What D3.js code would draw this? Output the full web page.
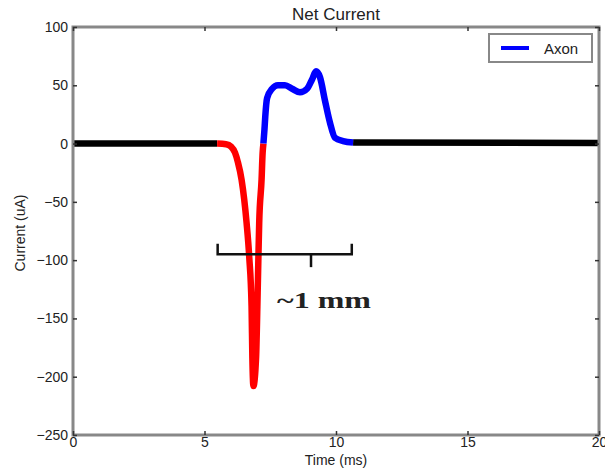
<!DOCTYPE html>
<html lang="en">
<head>
<meta charset="utf-8">
<title>Net Current</title>
<script src="https://d3js.org/d3.v7.min.js"></script>
<style>
  body { margin: 0; background: #fff; }
  text { font-family: "Liberation Sans", Arial, sans-serif; fill: #222; }
</style>
</head>
<body>
<script>
// time (ms) / current (uA)
var restT1 = [0, 5.48];
var restV1 = [0, 0];
var redT = [5.48, 5.82, 6.01, 6.16, 6.27, 6.41, 6.60, 6.70, 6.79, 6.82, 6.86, 6.96, 7.01, 7.05, 7.08, 7.17, 7.21, 7.24];
var redV = [0, -0.5, -2.6, -7.8, -16, -31, -68, -97, -140, -184, -208, -184, -140, -97, -68, -31, -8, 0];
var blueT = [7.24, 7.28, 7.31, 7.38, 7.57, 7.79, 8.06, 8.33, 8.63, 8.90, 9.09, 9.24, 9.39, 9.58, 9.77, 9.96, 10.27, 10.65];
var blueV = [0, 12, 23, 39, 47, 50, 50, 47, 44, 47, 55, 62, 57, 37, 18, 5, 2.2, 1];
var restT2 = [10.65, 20];
var restV2 = [1, 0.5];

var xTicks = [0, 5, 10, 15, 20];
var yTicks = [100, 50, 0, -50, -100, -150, -200, -250];

var width = 605, height = 471;
var plotLeft = 73, plotRight = 599, plotTop = 27, plotBottom = 435;

var x = d3.scaleLinear().domain([0, 20]).range([plotLeft, plotRight]);
var y = d3.scaleLinear().domain([-250, 100]).range([plotBottom, plotTop]);

var svg = d3.select("body").append("svg")
    .attr("width", width)
    .attr("height", height);

function pts(ts, vs) {
  return ts.map(function(t, i) { return [t, vs[i]]; });
}

var line = d3.line()
    .x(function(d) { return x(d[0]); })
    .y(function(d) { return y(d[1]); })
    .curve(d3.curveMonotoneX);

var series = [
  { data: pts(restT1, restV1), color: "#000" },
  { data: pts(restT2, restV2), color: "#000" },
  { data: pts(redT, redV), color: "#ff0000" },
  { data: pts(blueT, blueV), color: "#0000ff" }
];

svg.selectAll("path.series")
   .data(series)
   .enter()
   .append("path")
   .attr("class", "series")
   .attr("d", function(d) { return line(d.data); })
   .attr("fill", "none")
   .attr("stroke", function(d) { return d.color; })
   .attr("stroke-width", 6.5)
   .attr("stroke-linejoin", "round");

// frame
svg.append("rect")
   .attr("x", plotLeft).attr("y", plotTop)
   .attr("width", plotRight - plotLeft).attr("height", plotBottom - plotTop)
   .attr("fill", "none")
   .attr("stroke", "#888")
   .attr("stroke-width", 3);

// axes with inward ticks
var tickLen = 4;
svg.append("g")
   .attr("transform", "translate(0," + plotBottom + ")")
   .call(d3.axisBottom(x).tickValues(xTicks).tickSize(-tickLen).tickPadding(2).tickFormat(d3.format("d")))
   .call(function(g) { g.select(".domain").remove(); });
svg.append("g")
   .attr("transform", "translate(0," + plotTop + ")")
   .call(d3.axisTop(x).tickValues(xTicks).tickSize(-tickLen).tickFormat(""))
   .call(function(g) { g.select(".domain").remove(); });
svg.append("g")
   .attr("transform", "translate(" + plotLeft + ",0)")
   .call(d3.axisLeft(y).tickValues(yTicks).tickSize(-tickLen).tickPadding(5)
     .tickFormat(function(d) { return d < 0 ? "\u2212" + (-d) : d; }))
   .call(function(g) { g.select(".domain").remove(); });
svg.append("g")
   .attr("transform", "translate(" + plotRight + ",0)")
   .call(d3.axisRight(y).tickValues(yTicks).tickSize(-tickLen).tickFormat(""))
   .call(function(g) { g.select(".domain").remove(); });

svg.selectAll(".tick line").attr("stroke", "#333").attr("stroke-width", 1.5);
svg.selectAll(".tick text").style("font-size", "14px").attr("fill", "#222");

// titles
svg.append("text")
   .attr("x", (plotLeft + plotRight) / 2).attr("y", 20)
   .attr("text-anchor", "middle")
   .style("font-size", "17px")
   .text("Net Current");

svg.append("text")
   .attr("x", (plotLeft + plotRight) / 2).attr("y", 465)
   .attr("text-anchor", "middle")
   .style("font-size", "14px")
   .text("Time (ms)");

svg.append("text")
   .attr("transform", "translate(25," + ((plotTop + plotBottom) / 2 + 2) + ") rotate(-90)")
   .attr("text-anchor", "middle")
   .style("font-size", "14px")
   .text("Current (uA)");

// legend
var legend = svg.append("g");
legend.append("rect")
   .attr("x", 489).attr("y", 34)
   .attr("width", 103).attr("height", 28)
   .attr("fill", "#fff")
   .attr("stroke", "#888")
   .attr("stroke-width", 2);
legend.append("line")
   .attr("x1", 501).attr("x2", 529)
   .attr("y1", 48).attr("y2", 48)
   .attr("stroke", "#0000ff")
   .attr("stroke-width", 4);
legend.append("text")
   .attr("x", 544).attr("y", 53.5)
   .style("font-size", "15px")
   .text("Axon");

// "~1 mm" bracket
var bracketT = [5.5, 10.6];
var midT = 9.05;
var bracketV = -95, hookV = -86, midV = -106;
var bracket = svg.append("g")
   .attr("fill", "none")
   .attr("stroke", "#111")
   .attr("stroke-width", 2.5);
bracket.append("path")
   .attr("d", "M" + x(bracketT[0]) + "," + y(hookV) +
              "L" + x(bracketT[0]) + "," + y(bracketV) +
              "L" + x(bracketT[1]) + "," + y(bracketV) +
              "L" + x(bracketT[1]) + "," + y(hookV));
bracket.append("line")
   .attr("x1", x(midT)).attr("x2", x(midT))
   .attr("y1", y(bracketV)).attr("y2", y(midV));

svg.append("text")
   .attr("x", 277).attr("y", 308)
   .attr("textLength", 94)
   .attr("lengthAdjust", "spacingAndGlyphs")
   .style("font-family", "'Liberation Serif', 'Times New Roman', serif")
   .style("font-weight", "bold")
   .style("font-size", "23px")
   .attr("fill", "#000")
   .text("~1 mm");
</script>
</body>
</html>
